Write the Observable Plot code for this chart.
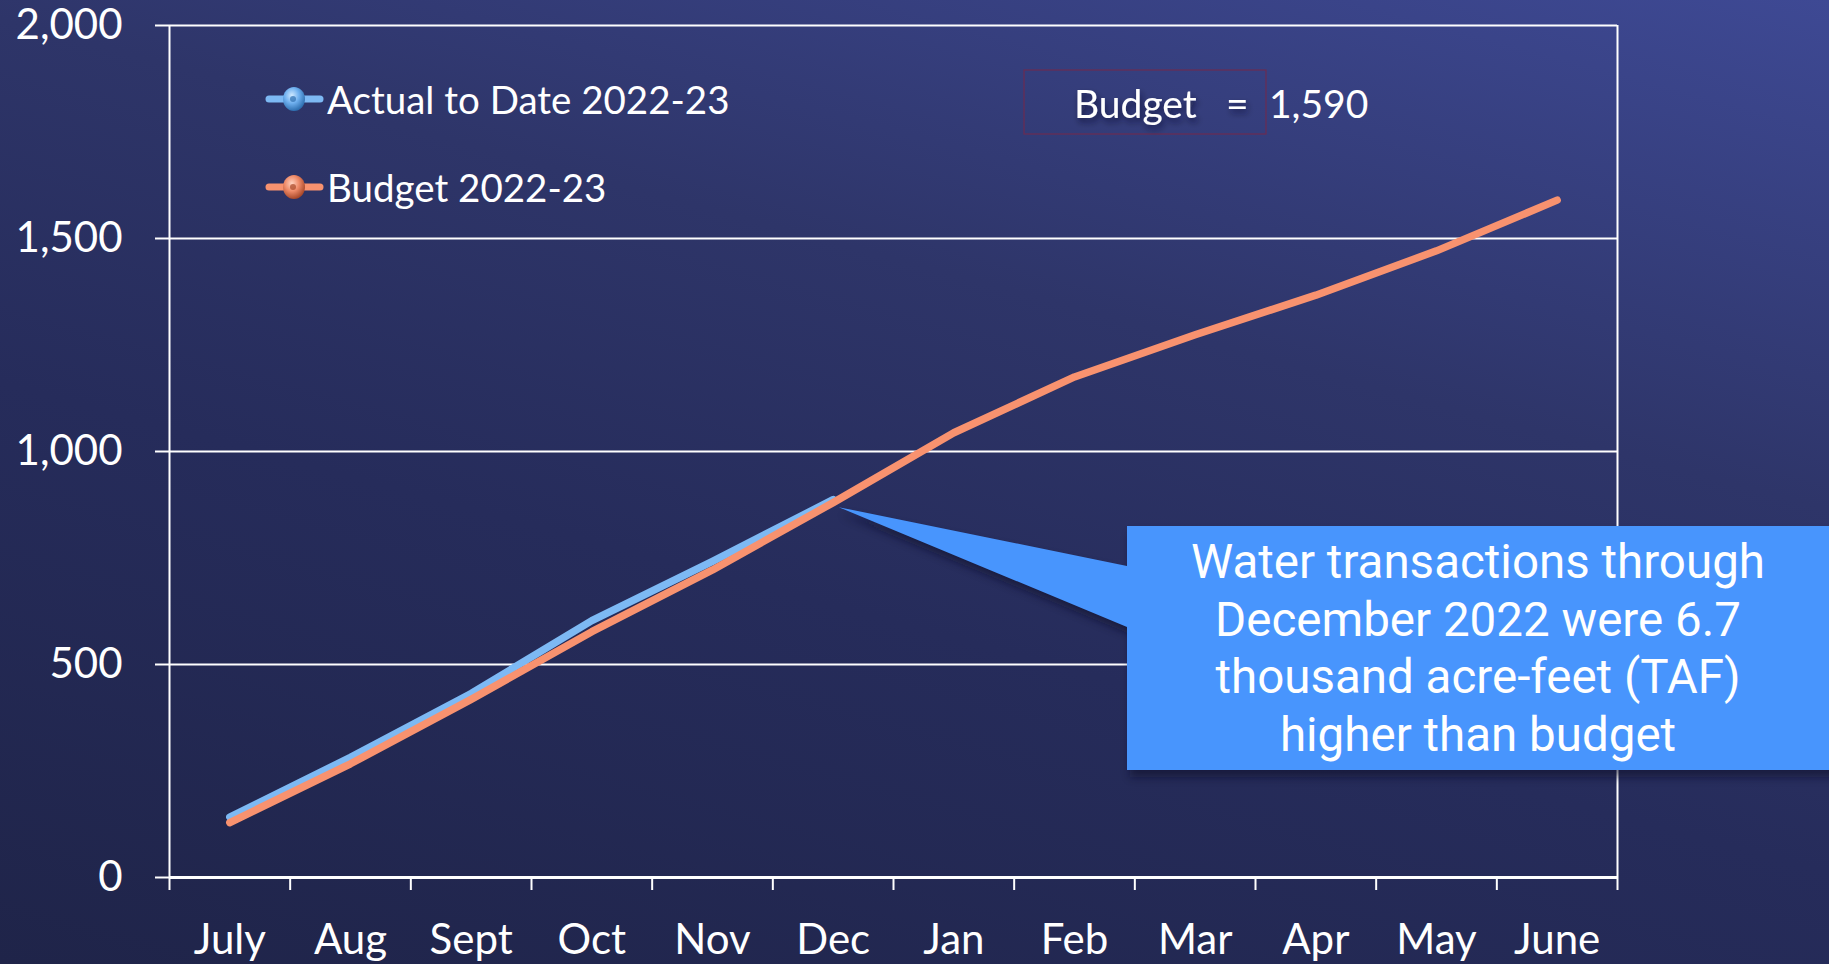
<!DOCTYPE html>
<html><head><meta charset="utf-8">
<script src="https://cdn.jsdelivr.net/npm/d3@7"></script>
<script src="https://cdn.jsdelivr.net/npm/@observablehq/plot@0.6"></script>
<style>
html,body{margin:0;padding:0;width:1829px;height:964px;overflow:hidden;}
body{background: linear-gradient(15deg, #1f2449 0%, #262c5b 40%, #2e3569 65%, #3e4994 100%);}
#chart{position:relative;width:1829px;height:964px;}
svg{display:block;}
</style></head><body><div id="chart"></div>
<script>
const months = ["July","Aug","Sept","Oct","Nov","Dec","Jan","Feb","Mar","Apr","May","June"];
const actual = [142, 282, 432, 603, 742, 887];
const budget = [129, 267, 418, 577, 722, 880, 1044, 1175, 1274, 1367, 1471, 1590];
const yTicks = [0, 500, 1000, 1500, 2000];
const legendLabels = ["Actual to Date 2022-23", "Budget 2022-23"];
const seriesColors = ["#7db9f4", "#f8926f"];
const budgetTotalLabel = "Budget";
const budgetTotal = 1590;
const calloutLines = ["Water transactions through", "December 2022 were 6.7", "thousand acre-feet (TAF)", "higher than budget"];

const actualData = actual.map((v, i) => ({i: i + 0.5, v}));
const budgetData = budget.map((v, i) => ({i: i + 0.5, v}));

const plot = Plot.plot({
  width: 1829, height: 964,
  marginLeft: 169, marginRight: 212, marginTop: 25, marginBottom: 87,
  style: {background: "transparent", color: "white", fontFamily: "Lato, sans-serif", overflow: "visible"},
  x: {domain: [0, 12], label: null},
  y: {domain: [0, 2000], label: null},
  marks: [
    Plot.ruleY(yTicks.slice(1), {stroke: "white", strokeWidth: 2}),
    Plot.axisY({ticks: yTicks, tickSize: 14, tickPadding: 33, tickFormat: d3.format(","), fontSize: 42, stroke: "white", strokeWidth: 2, label: null}),
    Plot.axisX({ticks: d3.range(13), tickSize: 13, tickFormat: () => "", stroke: "white", strokeWidth: 2, label: null}),
    Plot.ruleX([0, 12], {stroke: "white", strokeWidth: 2}),
    Plot.ruleY([0], {stroke: "white", strokeWidth: 3}),
    Plot.text(months, {x: (d, i) => i + 0.5, y: 0, dy: 63, fontSize: 42, fill: "white"}),
    Plot.line(actualData, {x: "i", y: "v", stroke: "#0a0d28", strokeOpacity: 0.8, strokeWidth: 9, dx: 3, dy: 8, ariaLabel: "shadow"}),
    Plot.line(budgetData, {x: "i", y: "v", stroke: "#0a0d28", strokeOpacity: 0.8, strokeWidth: 9, dx: 3, dy: 8, ariaLabel: "shadow"}),
    Plot.line(actualData, {x: "i", y: "v", stroke: seriesColors[0], strokeWidth: 7.5, strokeLinecap: "round", strokeLinejoin: "round"}),
    Plot.line(budgetData, {x: "i", y: "v", stroke: seriesColors[1], strokeWidth: 7.5, strokeLinecap: "round", strokeLinejoin: "round"})
  ]
});
document.getElementById("chart").appendChild(plot);

const svg = d3.select(plot);
const xs = plot.scale("x"), ys = plot.scale("y");
const defs = svg.insert("defs", ":first-child");
const blur = defs.append("filter").attr("id", "blur").attr("x", "-20%").attr("y", "-20%").attr("width", "140%").attr("height", "140%");
blur.append("feGaussianBlur").attr("stdDeviation", 4);
svg.selectAll('g[aria-label="shadow"]').attr("filter", "url(#blur)");
const tshadow = defs.append("filter").attr("id", "tshadow").attr("x", "-20%").attr("y", "-20%").attr("width", "140%").attr("height", "160%");
tshadow.append("feDropShadow").attr("dx", 2).attr("dy", 4).attr("stdDeviation", 3).attr("flood-color", "#0a0d25").attr("flood-opacity", 0.6);

const grads = [["gBlue", "#cfe8ff", "#6fb0ef", "#2e6fb0"], ["gOrange", "#ffd2c0", "#ef8b69", "#a8482a"]];
grads.forEach(([id, a, b, c]) => {
  const g = defs.append("radialGradient").attr("id", id).attr("cx", "40%").attr("cy", "35%").attr("r", "65%");
  g.append("stop").attr("offset", "0%").attr("stop-color", a);
  g.append("stop").attr("offset", "50%").attr("stop-color", b);
  g.append("stop").attr("offset", "100%").attr("stop-color", c);
});

// legend
const legend = svg.append("g").attr("font-family", "Lato, sans-serif").attr("text-anchor", "start");
legendLabels.forEach((lab, k) => {
  const cy = 99 + k * 88;
  legend.append("line").attr("x1", 269).attr("x2", 320).attr("y1", cy).attr("y2", cy)
    .attr("stroke", seriesColors[k]).attr("stroke-width", 7).attr("stroke-linecap", "round");
  legend.append("ellipse").attr("cx", 294).attr("cy", cy).attr("rx", 11).attr("ry", 12)
    .attr("fill", `url(#${grads[k][0]})`);
  legend.append("circle").attr("cx", 293).attr("cy", cy).attr("r", 3).attr("fill", grads[k][3]).attr("opacity", 0.7);
  legend.append("text").attr("x", 327).attr("y", cy).attr("dominant-baseline", "central")
    .attr("text-anchor", "start").attr("fill", "white").attr("font-size", 38.5).text(lab);
});

// budget total box
const bb = svg.append("g").attr("font-family", "Lato, sans-serif").attr("text-anchor", "start");
bb.append("rect").attr("x", 1024).attr("y", 70).attr("width", 242).attr("height", 64)
  .attr("fill", "none").attr("stroke", "#6b2c52").attr("stroke-width", 1.2);
bb.append("text").attr("x", 1074).attr("y", 103).attr("dominant-baseline", "central").attr("text-anchor", "start")
  .attr("fill", "white").attr("font-size", 39).attr("filter", "url(#tshadow)").text(budgetTotalLabel);
bb.append("text").attr("x", 1226).attr("y", 103).attr("dominant-baseline", "central").attr("text-anchor", "start")
  .attr("fill", "white").attr("font-size", 39).attr("filter", "url(#tshadow)").text("=");
bb.append("text").attr("x", 1269).attr("y", 103).attr("dominant-baseline", "central").attr("text-anchor", "start")
  .attr("fill", "white").attr("font-size", 39).text(d3.format(",")(budgetTotal));

// callout
const tipX = xs.apply(actualData[5].i) + 6, tipY = ys.apply(actualData[5].v) + 8;
const bx = 1127, by = 526, bw = 1829 - 1127 + 10, bh = 244;
const path = `M${tipX},${tipY} L${bx},566 L${bx},${by} L${bx + bw},${by} L${bx + bw},${by + bh} L${bx},${by + bh} L${bx},627 Z`;
const co = svg.append("g");
co.append("path").attr("d", path).attr("fill", "#0a0d25").attr("opacity", 0.55)
  .attr("transform", "translate(3,7)").attr("filter", "url(#blur)");
co.append("path").attr("d", path).attr("fill", "#4895fd");
calloutLines.forEach((t, k) => {
  co.append("text").attr("x", 1478).attr("y", 562 + k * 57.7).attr("text-anchor", "middle")
    .attr("dominant-baseline", "central").attr("fill", "white").attr("font-family", "Roboto, sans-serif")
    .attr("font-size", 47.5).text(t);
});
</script>
</body></html>
